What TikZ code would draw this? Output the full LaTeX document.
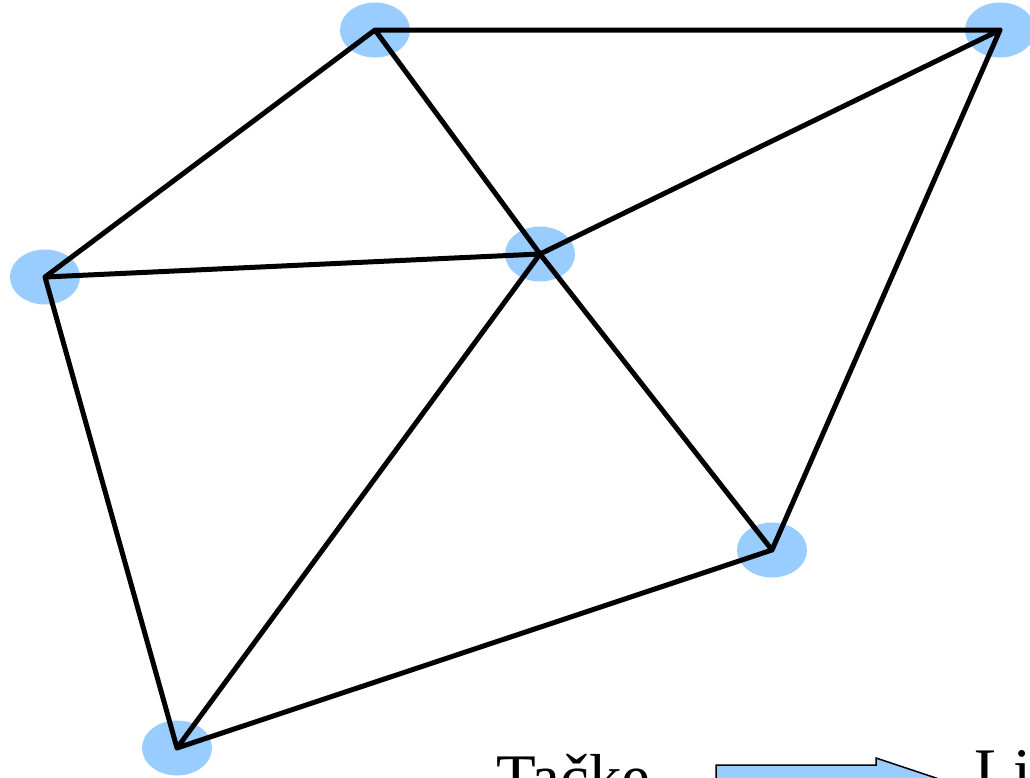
\documentclass[tikz,border=0pt]{standalone}
\usepackage{fontspec}
\setmainfont{Liberation Serif}
\usetikzlibrary{calc}
\definecolor{pointblue}{RGB}{153,204,255}
\tikzset{
 pointdot/.style={fill=pointblue},
 edge/.style={line width=5pt,black},
 bigtext/.style={font=\fontsize{65}{72}\selectfont,inner sep=0pt}
}
\begin{document}
\begin{tikzpicture}[x=1pt,y=-1pt,line cap=round,line join=round]
 \useasboundingbox (0,0) rectangle (1030,777);
 % vertices
 \coordinate (a) at (375,30);
 \coordinate (b) at (1000,30);
 \coordinate (c) at (45,277);
 \coordinate (d) at (540,254);
 \coordinate (e) at (772,550);
 \coordinate (f) at (177,748);
 \foreach \p in {a,b,c,d,e,f}
  \fill[pointdot] (\p) ellipse (35 and 27.5);
 % triangulation
 \draw[edge] (a)--(b) (a)--(c) (a)--(d) (b)--(d) (b)--(e)
  (c)--(d) (c)--(f) (d)--(f) (d)--(e) (e)--(f);
 % caption
 \node[bigtext,anchor=base west] (tacke) at (496,799) {Tačke};
 \fill[pointblue,draw=black,line width=1.5pt,line join=miter]
  (716,765)--(876,765)--(876,758)--(936,778)--(876,798)--(876,791)--(716,791)--cycle;
 \node[bigtext,anchor=base west] (linije) at (974,793) {Linije};
\end{tikzpicture}
\end{document}
